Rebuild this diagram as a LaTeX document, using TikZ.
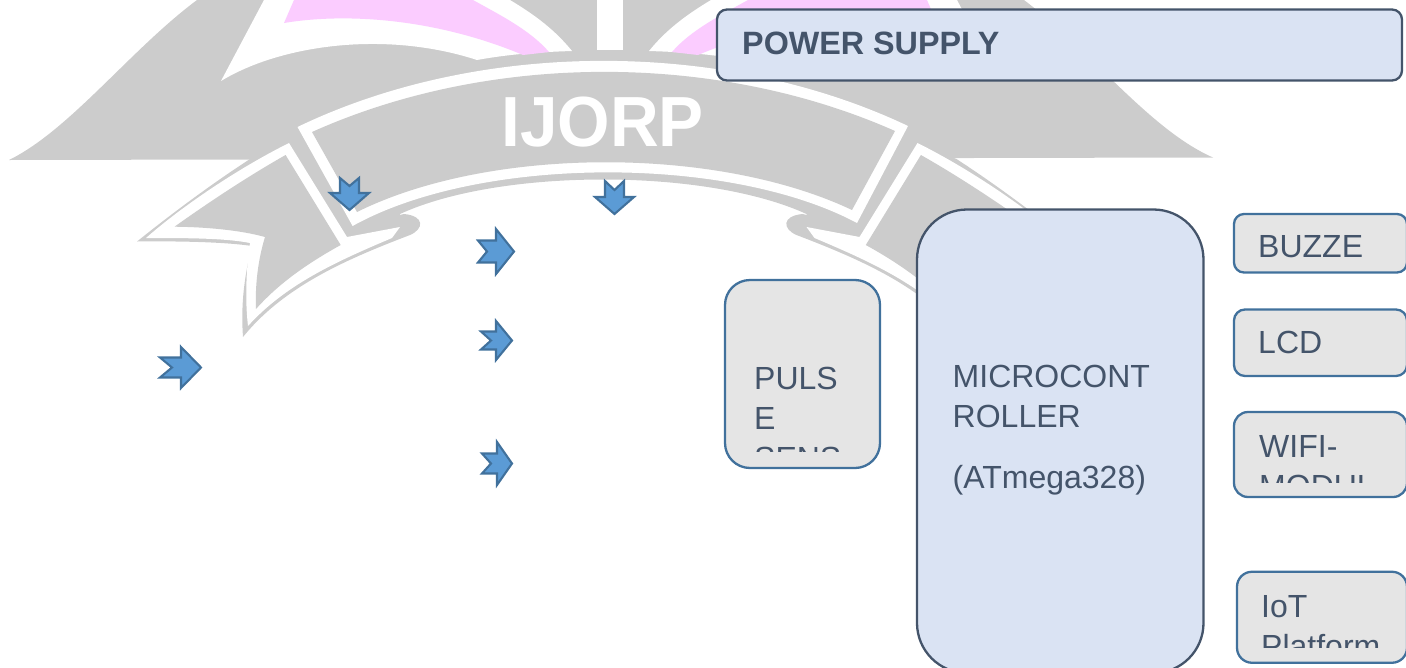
\documentclass[tikz,border=0pt]{standalone}
\usepackage{fontspec}
\setmainfont{Liberation Sans}
\usepackage{tikz}
\definecolor{crestgray}{HTML}{CCCCCC}
\definecolor{crestpink}{HTML}{FBCCFF}
\definecolor{panelblue}{HTML}{DAE3F3}
\definecolor{paneledge}{HTML}{44546A}
\definecolor{sensorgray}{HTML}{E5E5E5}
\definecolor{sensoredge}{HTML}{41719C}
\definecolor{arrowblue}{HTML}{5B9BD5}

\begin{document}
\begin{tikzpicture}[
    x=1pt, y=-1pt,
    panel/.style={draw=paneledge, fill=panelblue, line width=2.3pt, inner sep=0pt},
    sensor/.style={draw=sensoredge, fill=sensorgray, line width=2.3pt, inner sep=0pt},
    boxtext/.style={anchor=base west, inner sep=0pt, align=left, text=paneledge, font=\fontsize{32}{40}\selectfont},
    blockarrow/.style={draw=sensoredge, fill=arrowblue, line width=2.1pt, line join=miter}
]
  \clip (0,0) rectangle (1406,667);

  % crest behind the diagram
  \fill[crestgray] (9,160) .. controls (70,130) and (130,50) .. (197,0) -- (1024,0)
    .. controls (1090,50) and (1150,130) .. (1213,157.5) -- cycle;
  \foreach \flip/\dx in {1/0,-1/-1221} {
    \begin{scope}[xscale=\flip, xshift=\dx pt]
      \fill[white] (264,0) -- (221,81) .. controls (280,45) and (385,30) .. (477,60)
        .. controls (510,54) and (540,52) .. (572,51) .. controls (555,30) and (535,15) .. (510,0) -- cycle;
      \fill[crestpink] (294,0) -- (284,23) .. controls (350,12) and (440,20) .. (523,55)
        -- (549,52) .. controls (530,30) and (500,15) .. (473,0) -- cycle;
    \end{scope}
  }
  \fill[white] (597,0) rectangle (623,50);

  \foreach \flip/\dx in {1/0,-1/-1206.5} {
    \begin{scope}[xscale=\flip, xshift=\dx pt]
      \fill[crestgray] (250,159) .. controls (210,185) and (170,215) .. (137,241.5)
        .. controls (180,241) and (225,242) .. (252,246)
        .. controls (243,280) and (241,310) .. (243,337)
        .. controls (285,285) and (350,258) .. (410,235)
        .. controls (424,229) and (425,216) .. (404,214) -- (352,226) -- (289,143) -- cycle;
    \end{scope}
  }
  \fill[crestgray] (289,143) -- (347.5,238) -- (400,222) -- (400,214)
    .. controls (500,168) and (706,168) .. (806.5,214)
    -- (806.5,222) -- (859,238) -- (917.5,143) -- cycle;
  \foreach \flip/\dx in {1/0,-1/-1206.5} {
    \begin{scope}[xscale=\flip, xshift=\dx pt]
      \fill[white] (289,143) .. controls (235,170) and (180,208) .. (146,238)
        .. controls (185,238) and (225,238) .. (250,243)
        .. controls (246,270) and (245,300) .. (248,326)
        .. controls (285,285) and (335,262) .. (392,238) -- (400,227) -- (347,237) -- cycle;
      \fill[crestgray] (285.6,155) .. controls (245,178) and (205,205) .. (174.5,226.7)
        .. controls (205,227) and (240,230) .. (265,237)
        .. controls (258,260) and (255,285) .. (256,309)
        .. controls (280,282) and (310,262) .. (340.7,245) -- cycle;
    \end{scope}
  }
  \fill[white] (297.5,127) .. controls (480,39) and (725,39) .. (908,126) -- (857,223)
    .. controls (730,155) and (480,155) .. (352.6,226) -- cycle;
  \fill[crestgray] (312,132) .. controls (490,52) and (717,52) .. (895,131) -- (852,210)
    .. controls (717,146) and (490,146) .. (357,212) -- cycle;
  \node[inner sep=0pt, text=white, xscale=0.95, font=\fontsize{71}{71}\selectfont\bfseries, anchor=base] (crestname) at (602.5,146.5) {IJORP};

  % block arrows
  \foreach \tx/\nx/\bx/\hx/\cy/\sh/\hh in {160/172/181/201/367.5/10/20.5, 478/487/496/514/251.5/11/22.5,
      481/491/496/512/340.5/9/19.5, 482/491/497/512/463.5/10/21.5} {
    \draw[blockarrow] (\tx,\cy-\sh) -- (\bx,\cy-\sh) -- (\bx,\cy-\hh) -- (\hx,\cy) -- (\bx,\cy+\hh)
      -- (\bx,\cy+\sh) -- (\tx,\cy+\sh) -- (\nx,\cy) -- cycle;
  }
  \foreach \ty/\ny/\by/\hy/\cx/\sh/\hh in {178/186/193/210/349.5/9.5/19.5, 181/190/197/214/614.5/9.5/19.5} {
    \draw[blockarrow] (\cx-\sh,\ty) -- (\cx-\sh,\by) -- (\cx-\hh,\by) -- (\cx,\hy) -- (\cx+\hh,\by)
      -- (\cx+\sh,\by) -- (\cx+\sh,\ty) -- (\cx,\ny) -- cycle;
  }

  % blocks
  \node[panel, rounded corners=10pt, minimum width=685pt, minimum height=71pt] (power) at (1059.5,45) {};
  \node[panel, rounded corners=50pt, minimum width=286.5pt, minimum height=463.5pt] (mcu) at (1060.25,441.25) {};
  \node[sensor, rounded corners=25pt, minimum width=155pt, minimum height=188pt] (pulse) at (802.5,374) {};
  \node[sensor, rounded corners=10pt, minimum width=173pt, minimum height=58.5pt] (buzzer) at (1320.5,243.25) {};
  \node[sensor, rounded corners=11pt, minimum width=173pt, minimum height=66.5pt] (lcd) at (1320.5,342.75) {};
  \node[sensor, rounded corners=14pt, minimum width=173pt, minimum height=85pt] (wifi) at (1320.5,454.5) {};
  \node[sensor, rounded corners=15pt, minimum width=170pt, minimum height=91pt] (iot) at (1322,617.25) {};

  \node[boxtext, font=\fontsize{32.3}{40}\selectfont\bfseries] (powertext) at (742,54.5) {POWER SUPPLY};
  \node[boxtext] (mcutext) at (952.5,427) {MICROCONT\\ROLLER};
  \node[boxtext] (mcutype) at (952.5,488) {(ATmega328)};
  \node[boxtext] (buzzertext) at (1258,257) {BUZZE};
  \node[boxtext] (lcdtext) at (1258,353) {LCD};
  \begin{scope}
    \clip (740,300) rectangle (870,451);
    \node[boxtext] (pulsetext) at (754,469) {PULS\\E\\SENS};
  \end{scope}
  \begin{scope}
    \clip (1245,425) rectangle (1400,482);
    \node[boxtext] (wifitext) at (1259,497) {WIFI-\\MODUL};
  \end{scope}
  \begin{scope}
    \clip (1245,580) rectangle (1400,647);
    \node[boxtext] (iottext) at (1261,657) {IoT\\Platform};
  \end{scope}
\end{tikzpicture}
\end{document}
